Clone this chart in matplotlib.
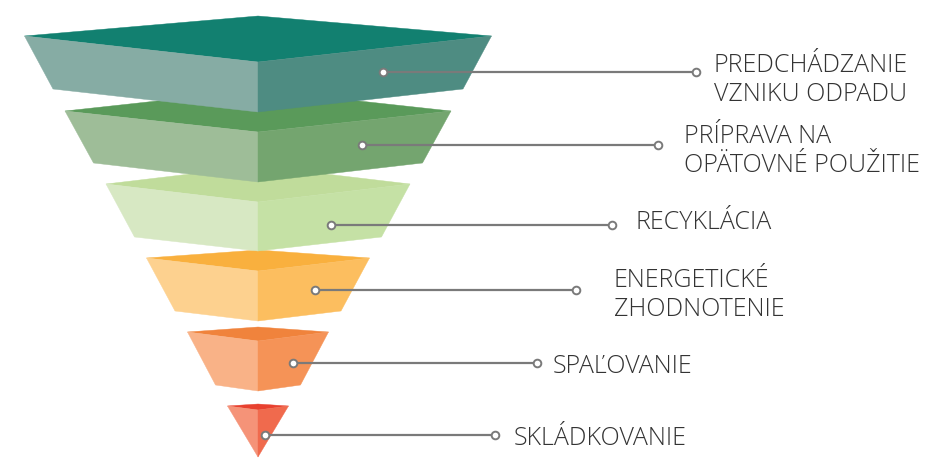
import matplotlib
matplotlib.use("Agg")
import matplotlib.pyplot as plt
from matplotlib.patches import Polygon

labels = ["PREDCHÁDZANIE\nVZNIKU ODPADU", "PRÍPRAVA NA\nOPÄTOVNÉ POUŽITIE", "RECYKLÁCIA",
          "ENERGETICKÉ\nZHODNOTENIE", "SPAĽOVANIE", "SKLÁDKOVANIE"]
top_colors = ["#128070", "#5A9A5A", "#C0DC9B", "#F9B03E", "#F0833C", "#E8412F"]
left_colors = ["#86ACA4", "#9EBD98", "#D7E8C3", "#FDD18F", "#F9B287", "#F59378"]
right_colors = ["#4E8C82", "#74A56F", "#C5E1A5", "#FCBE5F", "#F59357", "#F06A4D"]

# layout (pixel space)
cx = 258
tiers = [  # back_y, side_y, front_y, half_w, bot_side_y, bot_front_y, bot_half_w
    (16, 36, 62, 233.5, 89, 112, 205),
    (90, 111, 132, 193, 163, 182, 164.5),
    (166, 184, 202, 152, 237, 251, 123.5),
    (250, 258, 271, 111.5, 311, 321, 83),
    (327, 332, 341, 70.5, 385, 391, 42.5),
    (404, 406, 410, 30.5, 457, 457, 0),
]
leaders = [(383, 696, 72), (362, 658, 145), (331, 612, 225), (315, 576, 290), (293, 537, 363), (265, 495, 435)]
text_x = [714, 684, 636, 614, 553, 514]
text_baseline = [72, 143, 229, 287, 373, 445]
line_gap = 29

fig = plt.figure(figsize=(9.27, 4.58), dpi=100)
ax = fig.add_axes([0, 0, 1, 1])
ax.set_xlim(0, 927)
ax.set_ylim(458, 0)
ax.axis("off")

for i in reversed(range(len(tiers))):
    by, sy, fy, hw, bsy, bfy, bhw = tiers[i]
    top = [(cx, by), (cx - hw, sy), (cx, fy), (cx + hw, sy)]
    left = [(cx - hw, sy), (cx, fy), (cx, bfy), (cx - bhw, bsy)]
    right = [(cx + hw, sy), (cx, fy), (cx, bfy), (cx + bhw, bsy)]
    z = 10 - i
    ax.add_patch(Polygon(top, closed=True, fc=top_colors[i], ec=top_colors[i], lw=0.3, zorder=z))
    ax.add_patch(Polygon(left, closed=True, fc=left_colors[i], ec=left_colors[i], lw=0.3, zorder=z))
    ax.add_patch(Polygon(right, closed=True, fc=right_colors[i], ec=right_colors[i], lw=0.3, zorder=z))

for (x0, x1, y), lab, tx, tb in zip(leaders, labels, text_x, text_baseline):
    ax.plot([x0, x1], [y, y], color="#7a7a7a", lw=1.6, zorder=20)
    ax.plot([x0, x1], [y, y], ls="none", marker="o", ms=5.5, mfc="white", mec="#7a7a7a", mew=1.4, zorder=21)
    for k, line in enumerate(lab.split("\n")):
        ax.text(tx, tb + k * line_gap, line, ha="left", va="baseline", fontsize=18, color="#333333",
                family=["Open Sans", "DejaVu Sans"], fontweight="light", zorder=22)

fig.savefig("out.png", dpi=100, facecolor="white")
